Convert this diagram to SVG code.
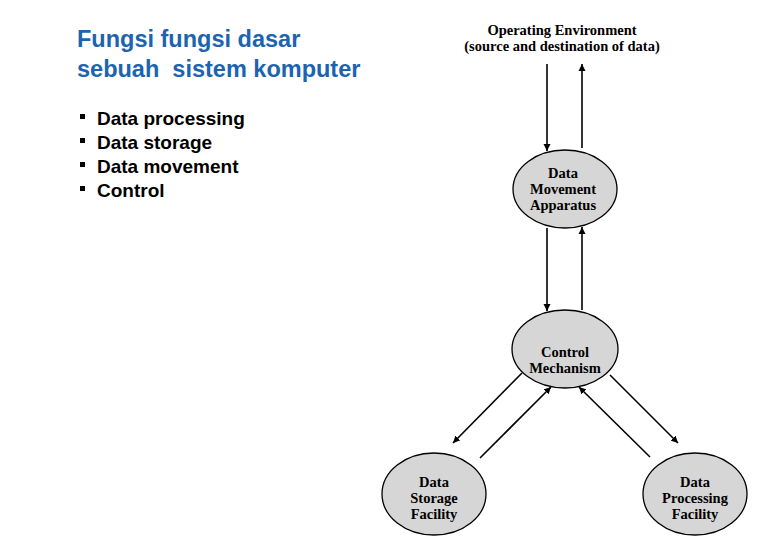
<svg xmlns="http://www.w3.org/2000/svg" width="780" height="540" viewBox="0 0 780 540">
<style>
.t{font-family:"Liberation Sans",Arial,sans-serif;font-size:23.5px;font-weight:bold;fill:#1c64b0;white-space:pre}
.b{font-family:"Liberation Sans",Arial,sans-serif;font-size:19px;font-weight:bold;fill:#000}
.n{fill:#d6d6d6;stroke:#000;stroke-width:1.3}
.l{font-family:"Liberation Serif","Times New Roman",serif;font-size:14.5px;font-weight:bold;fill:#000;text-anchor:middle}
.c{stroke:#000;stroke-width:1.6;fill:none;marker-end:url(#a)}
</style>
<defs><marker id="a" viewBox="0 0 10 10" refX="10" refY="5" markerWidth="7" markerHeight="8" markerUnits="userSpaceOnUse" orient="auto"><path d="M0,0L10,5L0,10z" fill="#000"/></marker></defs>
<rect width="780" height="540" fill="#fff"/>
<g id="title"><text class="t" x="77" y="47">Fungsi fungsi dasar</text><text class="t" x="77" y="77" xml:space="preserve">sebuah  sistem komputer</text></g>
<g id="bullets">
<rect x="80" y="114" width="5" height="5"/><text class="b" x="97" y="125">Data processing</text>
<rect x="80" y="138" width="5" height="5"/><text class="b" x="97" y="149">Data storage</text>
<rect x="80" y="162" width="5" height="5"/><text class="b" x="97" y="173">Data movement</text>
<rect x="80" y="186" width="5" height="5"/><text class="b" x="97" y="197">Control</text>
</g>
<g id="env"><text class="l" x="562" y="35">Operating Environment</text><text class="l" x="562" y="51">(source and destination of data)</text></g>
<g id="movement"><ellipse class="n" cx="565" cy="189" rx="52" ry="39"/><text class="l" x="563" y="178">Data</text><text class="l" x="563" y="194">Movement</text><text class="l" x="563" y="210">Apparatus</text></g>
<g id="control"><ellipse class="n" cx="565" cy="349" rx="53" ry="39"/><text class="l" x="565" y="357">Control</text><text class="l" x="565" y="373">Mechanism</text></g>
<g id="storage"><ellipse class="n" cx="434" cy="494" rx="52" ry="41"/><text class="l" x="434" y="487">Data</text><text class="l" x="434" y="503">Storage</text><text class="l" x="434" y="519">Facility</text></g>
<g id="processing"><ellipse class="n" cx="695" cy="494" rx="52" ry="41"/><text class="l" x="695" y="487">Data</text><text class="l" x="695" y="503">Processing</text><text class="l" x="695" y="519">Facility</text></g>
<g id="connectors">
<line class="c" x1="547" y1="64" x2="547" y2="151"/>
<line class="c" x1="582" y1="148" x2="582" y2="64"/>
<line class="c" x1="547" y1="228" x2="547" y2="311"/>
<line class="c" x1="582" y1="310" x2="582" y2="227"/>
<line class="c" x1="522" y1="373" x2="453" y2="443"/>
<line class="c" x1="480" y1="458" x2="551" y2="387"/>
<line class="c" x1="610" y1="375" x2="678" y2="443"/>
<line class="c" x1="650" y1="457" x2="579" y2="387"/>
</g>
</svg>
